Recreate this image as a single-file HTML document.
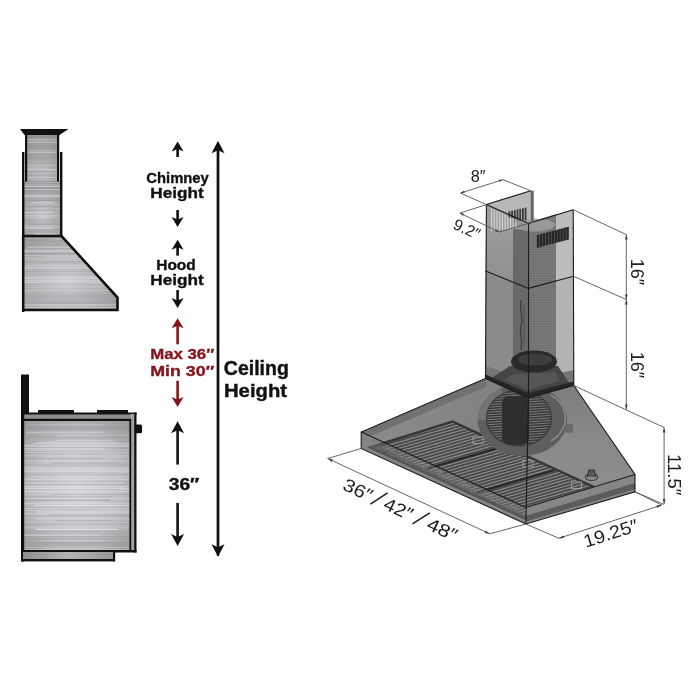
<!DOCTYPE html>
<html><head><meta charset="utf-8"><style>
html,body{margin:0;padding:0;background:#fff;}
svg{display:block;}
text{font-family:"Liberation Sans",sans-serif;}
</style></head><body>
<svg width="700" height="700" viewBox="0 0 700 700">
<defs>
<radialGradient id="metalV" cx="0.5" cy="0.65" r="0.8">
<stop offset="0" stop-color="#c6c6ca"/><stop offset="0.55" stop-color="#a9a9ac"/><stop offset="1" stop-color="#8a8a8c"/></radialGradient>
<radialGradient id="metalH" cx="0.45" cy="0.6" r="0.7">
<stop offset="0" stop-color="#cfcfd3"/><stop offset="0.6" stop-color="#b2b2b5"/><stop offset="1" stop-color="#949496"/></radialGradient>
<radialGradient id="metalB" cx="0.5" cy="0.52" r="0.72">
<stop offset="0" stop-color="#d6d6da"/><stop offset="0.55" stop-color="#c0c0c4"/><stop offset="1" stop-color="#969698"/></radialGradient>
<linearGradient id="metalP" x1="0" x2="1" y1="0" y2="0">
<stop offset="0" stop-color="#8e8e90"/><stop offset="0.5" stop-color="#b4b4b7"/><stop offset="1" stop-color="#969698"/></linearGradient>
<linearGradient id="upFront" x1="0" x2="0" y1="0" y2="1"><stop offset="0" stop-color="#a0a0a0"/><stop offset="1" stop-color="#8e8e8e"/></linearGradient>
<linearGradient id="hoodFront" x1="0" x2="1" y1="0" y2="0.3">
<stop offset="0" stop-color="#8e8e8e"/><stop offset="1" stop-color="#7e7e7e"/></linearGradient>
<linearGradient id="hoodRight" x1="0" x2="0" y1="0" y2="1">
<stop offset="0" stop-color="#7e7e7e"/><stop offset="0.5" stop-color="#8a8a8a"/><stop offset="1" stop-color="#8e8e8e"/></linearGradient>
</defs>
<rect width="700" height="700" fill="#fff"/>
<g><rect x="25" y="134" width="34" height="102" fill="url(#metalV)"/><rect x="30.1" y="134" width="28.9" height="0.7" fill="rgb(240,240,244)" opacity="0.61"/><rect x="25" y="135.9" width="34" height="0.7" fill="rgb(135,135,139)" opacity="0.52"/><rect x="25" y="137.9" width="34" height="1.1" fill="rgb(160,160,164)" opacity="0.32"/><rect x="25" y="138.9" width="29.7" height="0.5" fill="rgb(215,215,219)" opacity="0.68"/><rect x="25" y="139.8" width="34" height="0.7" fill="rgb(230,230,234)" opacity="0.52"/><rect x="25" y="141.9" width="34" height="0.9" fill="rgb(228,228,232)" opacity="0.64"/><rect x="25" y="143" width="34" height="0.9" fill="rgb(145,145,149)" opacity="0.52"/><rect x="25" y="145.4" width="34" height="0.7" fill="rgb(153,153,157)" opacity="0.54"/><rect x="25" y="146.9" width="28.4" height="0.5" fill="rgb(158,158,162)" opacity="0.49"/><rect x="25" y="148.8" width="34" height="0.9" fill="rgb(156,156,160)" opacity="0.40"/><rect x="25" y="150.3" width="34" height="1.1" fill="rgb(230,230,234)" opacity="0.32"/><rect x="25" y="152.1" width="34" height="1.1" fill="rgb(220,220,224)" opacity="0.50"/><rect x="25" y="153.8" width="34" height="0.7" fill="rgb(146,146,150)" opacity="0.54"/><rect x="25" y="155.1" width="34" height="0.5" fill="rgb(162,162,166)" opacity="0.50"/><rect x="25" y="157.2" width="34" height="0.7" fill="rgb(136,136,140)" opacity="0.39"/><rect x="30.5" y="159.6" width="28.5" height="1.1" fill="rgb(146,146,150)" opacity="0.37"/><rect x="25" y="160.9" width="34" height="0.5" fill="rgb(235,235,239)" opacity="0.37"/><rect x="25.2" y="163" width="26.1" height="0.9" fill="rgb(165,165,169)" opacity="0.45"/><rect x="26.6" y="164.3" width="32.4" height="0.5" fill="rgb(220,220,224)" opacity="0.44"/><rect x="25" y="165.5" width="34" height="0.9" fill="rgb(224,224,228)" opacity="0.48"/><rect x="34.2" y="166.4" width="24.8" height="1.1" fill="rgb(160,160,164)" opacity="0.31"/><rect x="25" y="167.6" width="24.2" height="1.1" fill="rgb(215,215,219)" opacity="0.39"/><rect x="25" y="169.2" width="34" height="1.1" fill="rgb(222,222,226)" opacity="0.69"/><rect x="25" y="170.8" width="34" height="0.5" fill="rgb(153,153,157)" opacity="0.49"/><rect x="25" y="172.8" width="34" height="0.7" fill="rgb(216,216,220)" opacity="0.42"/><rect x="25" y="175.1" width="34" height="0.7" fill="rgb(143,143,147)" opacity="0.29"/><rect x="25" y="176.9" width="34" height="0.7" fill="rgb(233,233,237)" opacity="0.48"/><rect x="25" y="178.9" width="34" height="0.5" fill="rgb(146,146,150)" opacity="0.28"/><rect x="25" y="180.7" width="27.8" height="1.1" fill="rgb(156,156,160)" opacity="0.37"/><rect x="25" y="182.2" width="34" height="0.9" fill="rgb(141,141,145)" opacity="0.51"/><rect x="25" y="183.3" width="34" height="1.1" fill="rgb(156,156,160)" opacity="0.28"/><rect x="25" y="185.6" width="32.3" height="1.1" fill="rgb(232,232,236)" opacity="0.39"/><rect x="25" y="187.9" width="34" height="0.7" fill="rgb(145,145,149)" opacity="0.43"/><rect x="25" y="189.3" width="34" height="0.9" fill="rgb(165,165,169)" opacity="0.43"/><rect x="25" y="190.4" width="34" height="0.5" fill="rgb(148,148,152)" opacity="0.27"/><rect x="25" y="192.5" width="34" height="0.9" fill="rgb(153,153,157)" opacity="0.48"/><rect x="25" y="193.8" width="34" height="0.5" fill="rgb(226,226,230)" opacity="0.66"/><rect x="31.8" y="195.3" width="26" height="0.9" fill="rgb(136,136,140)" opacity="0.50"/><rect x="25" y="197.6" width="32.3" height="0.5" fill="rgb(160,160,164)" opacity="0.55"/><rect x="25" y="198.8" width="34" height="0.5" fill="rgb(165,165,169)" opacity="0.36"/><rect x="25" y="200.2" width="33.9" height="0.9" fill="rgb(225,225,229)" opacity="0.34"/><rect x="25" y="202.6" width="24.7" height="0.9" fill="rgb(225,225,229)" opacity="0.48"/><rect x="25" y="204.9" width="34" height="1.1" fill="rgb(141,141,145)" opacity="0.49"/><rect x="27" y="207.1" width="32" height="1.1" fill="rgb(223,223,227)" opacity="0.37"/><rect x="25" y="209.2" width="34" height="0.5" fill="rgb(229,229,233)" opacity="0.34"/><rect x="25" y="210.5" width="34" height="0.9" fill="rgb(140,140,144)" opacity="0.35"/><rect x="25" y="211.8" width="33.8" height="0.9" fill="rgb(154,154,158)" opacity="0.42"/><rect x="31.5" y="213.1" width="19.4" height="0.5" fill="rgb(162,162,166)" opacity="0.27"/><rect x="34.7" y="214.7" width="16.4" height="0.7" fill="rgb(159,159,163)" opacity="0.49"/><rect x="25" y="217.1" width="24.9" height="0.9" fill="rgb(157,157,161)" opacity="0.40"/><rect x="25" y="218.2" width="34" height="0.5" fill="rgb(234,234,238)" opacity="0.62"/><rect x="33.8" y="220.2" width="17.3" height="0.7" fill="rgb(148,148,152)" opacity="0.41"/><rect x="25" y="222.2" width="34" height="1.1" fill="rgb(232,232,236)" opacity="0.40"/><rect x="25" y="223.1" width="34" height="0.9" fill="rgb(150,150,154)" opacity="0.26"/><rect x="27.6" y="224.8" width="31.4" height="0.5" fill="rgb(233,233,237)" opacity="0.36"/><rect x="30.4" y="226.3" width="28.6" height="1.1" fill="rgb(137,137,141)" opacity="0.32"/><rect x="30" y="228.2" width="29" height="1.1" fill="rgb(235,235,239)" opacity="0.59"/><rect x="25" y="229.5" width="27.4" height="1.1" fill="rgb(154,154,158)" opacity="0.52"/><rect x="32.8" y="230.4" width="26.2" height="0.5" fill="rgb(235,235,239)" opacity="0.65"/><rect x="25" y="231.8" width="34" height="0.9" fill="rgb(226,226,230)" opacity="0.37"/><rect x="27.6" y="232.8" width="25.6" height="0.5" fill="rgb(231,231,235)" opacity="0.53"/><rect x="25" y="234.9" width="34" height="0.5" fill="rgb(147,147,151)" opacity="0.47"/><rect x="23" y="181" width="39" height="55" fill="url(#metalV)"/><rect x="24" y="181" width="37" height="0.5" fill="rgb(146,146,150)" opacity="0.50"/><rect x="24" y="182.4" width="37" height="0.7" fill="rgb(233,233,237)" opacity="0.57"/><rect x="24" y="184.5" width="37" height="0.9" fill="rgb(229,229,233)" opacity="0.50"/><rect x="24" y="185.9" width="37" height="0.9" fill="rgb(228,228,232)" opacity="0.66"/><rect x="24" y="187.2" width="37" height="0.5" fill="rgb(140,140,144)" opacity="0.29"/><rect x="24" y="189.1" width="37" height="0.7" fill="rgb(229,229,233)" opacity="0.62"/><rect x="32.4" y="191.1" width="28.6" height="0.9" fill="rgb(162,162,166)" opacity="0.54"/><rect x="24" y="192.7" width="37" height="0.7" fill="rgb(164,164,168)" opacity="0.40"/><rect x="24" y="194.6" width="37" height="1.1" fill="rgb(229,229,233)" opacity="0.44"/><rect x="24" y="196.2" width="37" height="0.7" fill="rgb(237,237,241)" opacity="0.63"/><rect x="24" y="198.3" width="37" height="1.1" fill="rgb(165,165,169)" opacity="0.49"/><rect x="24" y="199.9" width="37" height="1.1" fill="rgb(141,141,145)" opacity="0.40"/><rect x="30.4" y="202.1" width="24.1" height="0.9" fill="rgb(221,221,225)" opacity="0.70"/><rect x="26.3" y="204.1" width="34.7" height="0.5" fill="rgb(219,219,223)" opacity="0.64"/><rect x="24" y="205.6" width="26.4" height="0.5" fill="rgb(146,146,150)" opacity="0.30"/><rect x="26" y="206.5" width="35" height="0.5" fill="rgb(139,139,143)" opacity="0.49"/><rect x="27.8" y="208" width="33.2" height="0.5" fill="rgb(222,222,226)" opacity="0.36"/><rect x="24" y="210" width="37" height="0.5" fill="rgb(150,150,154)" opacity="0.26"/><rect x="24" y="212" width="29.7" height="0.9" fill="rgb(234,234,238)" opacity="0.58"/><rect x="30.5" y="213.4" width="30.5" height="0.5" fill="rgb(160,160,164)" opacity="0.51"/><rect x="24" y="215.1" width="37" height="0.7" fill="rgb(225,225,229)" opacity="0.40"/><rect x="25.1" y="216" width="35.9" height="0.7" fill="rgb(223,223,227)" opacity="0.31"/><rect x="24.9" y="217.7" width="27.3" height="0.5" fill="rgb(222,222,226)" opacity="0.59"/><rect x="24" y="219.5" width="32.7" height="0.9" fill="rgb(148,148,152)" opacity="0.33"/><rect x="24" y="220.6" width="36.7" height="0.5" fill="rgb(138,138,142)" opacity="0.26"/><rect x="24" y="222.6" width="37" height="1.1" fill="rgb(155,155,159)" opacity="0.36"/><rect x="28.6" y="223.8" width="32.4" height="1.1" fill="rgb(135,135,139)" opacity="0.42"/><rect x="24" y="224.9" width="37" height="0.5" fill="rgb(230,230,234)" opacity="0.45"/><rect x="24" y="226.8" width="37" height="0.9" fill="rgb(226,226,230)" opacity="0.42"/><rect x="24" y="227.8" width="29.9" height="0.7" fill="rgb(236,236,240)" opacity="0.63"/><rect x="24" y="229.4" width="28.6" height="0.5" fill="rgb(135,135,139)" opacity="0.36"/><rect x="24" y="230.6" width="37" height="0.9" fill="rgb(149,149,153)" opacity="0.29"/><rect x="24" y="231.9" width="35.8" height="0.5" fill="rgb(162,162,166)" opacity="0.35"/><rect x="34.7" y="233.7" width="22.2" height="1.1" fill="rgb(238,238,242)" opacity="0.58"/><rect x="24" y="235.3" width="37" height="1.1" fill="rgb(238,238,242)" opacity="0.62"/><rect x="25" y="134" width="2.2" height="47.5" fill="#111"/><rect x="57" y="134" width="2.2" height="47.5" fill="#111"/><rect x="22" y="152" width="2.4" height="160" fill="#111"/><rect x="60" y="152" width="2.4" height="85" fill="#111"/><polygon points="20,129 68.5,129 59.5,135 24.5,135" fill="#111"/><polygon points="23.2,236 61.5,236 117.5,297.5 117.5,310 23.2,310" fill="url(#metalH)" stroke="#111" stroke-width="2.6" stroke-linejoin="miter"/><clipPath id="hoodclip"><polygon points="24.5,237.5 61,237.5 116,298 116,309 24.5,309"/></clipPath><g clip-path="url(#hoodclip)"><rect x="24" y="238" width="93" height="0.7" fill="rgb(219,219,223)" opacity="0.45"/><rect x="51.8" y="239" width="65.2" height="0.5" fill="rgb(230,230,234)" opacity="0.40"/><rect x="24" y="241.2" width="93" height="1.1" fill="rgb(162,162,166)" opacity="0.30"/><rect x="24" y="242.8" width="71.2" height="0.5" fill="rgb(217,217,221)" opacity="0.36"/><rect x="24" y="245" width="93" height="0.9" fill="rgb(158,158,162)" opacity="0.53"/><rect x="27.8" y="246.5" width="62.3" height="1.1" fill="rgb(219,219,223)" opacity="0.65"/><rect x="24" y="248.1" width="93" height="0.9" fill="rgb(161,161,165)" opacity="0.37"/><rect x="24" y="249.8" width="93" height="0.9" fill="rgb(215,215,219)" opacity="0.64"/><rect x="24" y="251" width="69.8" height="0.9" fill="rgb(233,233,237)" opacity="0.53"/><rect x="24" y="252.7" width="70.7" height="0.9" fill="rgb(150,150,154)" opacity="0.51"/><rect x="24" y="254.3" width="75.9" height="0.7" fill="rgb(148,148,152)" opacity="0.48"/><rect x="24" y="255.2" width="93" height="0.9" fill="rgb(223,223,227)" opacity="0.50"/><rect x="43.2" y="256.2" width="73.8" height="0.5" fill="rgb(228,228,232)" opacity="0.42"/><rect x="24" y="257.7" width="93" height="0.9" fill="rgb(227,227,231)" opacity="0.45"/><rect x="24" y="259.9" width="93" height="0.5" fill="rgb(240,240,244)" opacity="0.50"/><rect x="24" y="261.1" width="81.4" height="0.9" fill="rgb(143,143,147)" opacity="0.41"/><rect x="41.5" y="262.9" width="75.5" height="0.5" fill="rgb(153,153,157)" opacity="0.44"/><rect x="25.7" y="264.8" width="91.3" height="0.9" fill="rgb(223,223,227)" opacity="0.60"/><rect x="24" y="267.1" width="93" height="0.9" fill="rgb(224,224,228)" opacity="0.54"/><rect x="24" y="268.5" width="93" height="0.9" fill="rgb(223,223,227)" opacity="0.42"/><rect x="33.1" y="269.5" width="83.9" height="0.7" fill="rgb(142,142,146)" opacity="0.45"/><rect x="24" y="271.3" width="70.4" height="0.5" fill="rgb(145,145,149)" opacity="0.53"/><rect x="24" y="273.7" width="71" height="0.5" fill="rgb(155,155,159)" opacity="0.32"/><rect x="31.8" y="274.6" width="85.2" height="0.7" fill="rgb(161,161,165)" opacity="0.50"/><rect x="24" y="276.5" width="83.3" height="0.9" fill="rgb(228,228,232)" opacity="0.42"/><rect x="24.1" y="278" width="92.9" height="1.1" fill="rgb(216,216,220)" opacity="0.67"/><rect x="24" y="280.2" width="93" height="1.1" fill="rgb(237,237,241)" opacity="0.39"/><rect x="24" y="282.1" width="93" height="0.9" fill="rgb(222,222,226)" opacity="0.64"/><rect x="24" y="283.2" width="68.3" height="0.7" fill="rgb(163,163,167)" opacity="0.49"/><rect x="24" y="284.8" width="92.4" height="0.5" fill="rgb(158,158,162)" opacity="0.29"/><rect x="51.1" y="286.5" width="65.9" height="0.5" fill="rgb(234,234,238)" opacity="0.35"/><rect x="24" y="288.6" width="86.3" height="0.5" fill="rgb(141,141,145)" opacity="0.29"/><rect x="24" y="289.9" width="93" height="0.7" fill="rgb(215,215,219)" opacity="0.50"/><rect x="33" y="291.9" width="84" height="0.7" fill="rgb(151,151,155)" opacity="0.41"/><rect x="24" y="294.1" width="93" height="0.7" fill="rgb(136,136,140)" opacity="0.27"/><rect x="24" y="295.1" width="93" height="1.1" fill="rgb(145,145,149)" opacity="0.27"/><rect x="24.1" y="296.5" width="92.9" height="0.9" fill="rgb(145,145,149)" opacity="0.38"/><rect x="24" y="298.6" width="93" height="0.7" fill="rgb(149,149,153)" opacity="0.43"/><rect x="24" y="300.7" width="93" height="1.1" fill="rgb(155,155,159)" opacity="0.40"/><rect x="24" y="302.6" width="81.1" height="1.1" fill="rgb(141,141,145)" opacity="0.41"/><rect x="24" y="304.2" width="93" height="0.5" fill="rgb(226,226,230)" opacity="0.69"/><rect x="24" y="305.2" width="93" height="0.5" fill="rgb(238,238,242)" opacity="0.56"/><rect x="24" y="307.1" width="93" height="0.9" fill="rgb(218,218,222)" opacity="0.62"/><rect x="24" y="308.4" width="93" height="1.1" fill="rgb(137,137,141)" opacity="0.42"/></g></g><g><rect x="21" y="374.5" width="8" height="40" fill="#111"/><rect x="38" y="410" width="36" height="4" fill="#111"/><rect x="97" y="410" width="31" height="4" fill="#111"/><rect x="21" y="412.5" width="115.5" height="2.5" fill="#111"/><rect x="22" y="414.5" width="113" height="6" fill="#8e8e90" stroke="#111" stroke-width="0"/><rect x="22" y="418.8" width="110" height="2.4" fill="#111"/><rect x="23" y="421" width="107" height="130" fill="url(#metalB)"/><rect x="26.1" y="421" width="103.9" height="0.7" fill="rgb(158,158,162)" opacity="0.37"/><rect x="24" y="422.9" width="106" height="0.5" fill="rgb(152,152,156)" opacity="0.36"/><rect x="29.2" y="424" width="73.2" height="0.5" fill="rgb(240,240,244)" opacity="0.40"/><rect x="24" y="425.9" width="98.1" height="0.9" fill="rgb(154,154,158)" opacity="0.35"/><rect x="24" y="427" width="106" height="0.9" fill="rgb(144,144,148)" opacity="0.42"/><rect x="33.7" y="428.4" width="96.3" height="1.1" fill="rgb(144,144,148)" opacity="0.38"/><rect x="24" y="429.2" width="106" height="0.5" fill="rgb(143,143,147)" opacity="0.41"/><rect x="24" y="430.1" width="94.7" height="0.7" fill="rgb(164,164,168)" opacity="0.31"/><rect x="26" y="431.8" width="79.7" height="0.9" fill="rgb(221,221,225)" opacity="0.66"/><rect x="24" y="433.3" width="83.8" height="0.7" fill="rgb(164,164,168)" opacity="0.30"/><rect x="54.7" y="435.2" width="75.3" height="0.9" fill="rgb(225,225,229)" opacity="0.31"/><rect x="32" y="436.5" width="98" height="0.5" fill="rgb(141,141,145)" opacity="0.52"/><rect x="24" y="437.4" width="106" height="0.5" fill="rgb(149,149,153)" opacity="0.30"/><rect x="25.9" y="438.5" width="98.7" height="0.5" fill="rgb(141,141,145)" opacity="0.38"/><rect x="55.7" y="440.1" width="57.4" height="0.7" fill="rgb(232,232,236)" opacity="0.50"/><rect x="37.1" y="441.9" width="79.5" height="1.1" fill="rgb(221,221,225)" opacity="0.49"/><rect x="32.1" y="442.9" width="97.9" height="1.1" fill="rgb(230,230,234)" opacity="0.38"/><rect x="24" y="444.6" width="106" height="1.1" fill="rgb(219,219,223)" opacity="0.43"/><rect x="24" y="445.5" width="106" height="1.1" fill="rgb(235,235,239)" opacity="0.56"/><rect x="24" y="446.9" width="106" height="0.5" fill="rgb(164,164,168)" opacity="0.51"/><rect x="24" y="448.1" width="80.5" height="1.1" fill="rgb(235,235,239)" opacity="0.43"/><rect x="24" y="449.8" width="106" height="0.9" fill="rgb(230,230,234)" opacity="0.33"/><rect x="24" y="451.4" width="106" height="0.5" fill="rgb(154,154,158)" opacity="0.29"/><rect x="24" y="452.2" width="106" height="0.7" fill="rgb(229,229,233)" opacity="0.53"/><rect x="24" y="453.3" width="80.2" height="0.5" fill="rgb(140,140,144)" opacity="0.25"/><rect x="24" y="455" width="106" height="0.7" fill="rgb(221,221,225)" opacity="0.36"/><rect x="42.9" y="456.4" width="87.1" height="1.1" fill="rgb(229,229,233)" opacity="0.31"/><rect x="24" y="458.3" width="79.4" height="0.7" fill="rgb(137,137,141)" opacity="0.48"/><rect x="24" y="460.1" width="106" height="0.5" fill="rgb(229,229,233)" opacity="0.45"/><rect x="43.7" y="461.1" width="86.3" height="1.1" fill="rgb(227,227,231)" opacity="0.34"/><rect x="52" y="462.5" width="68.4" height="1.1" fill="rgb(157,157,161)" opacity="0.48"/><rect x="24" y="464.3" width="101.3" height="1.1" fill="rgb(152,152,156)" opacity="0.30"/><rect x="44.6" y="465.6" width="81.9" height="0.9" fill="rgb(163,163,167)" opacity="0.25"/><rect x="24" y="467.4" width="106" height="1.1" fill="rgb(231,231,235)" opacity="0.40"/><rect x="24" y="469.1" width="106" height="0.5" fill="rgb(234,234,238)" opacity="0.66"/><rect x="24" y="470.8" width="106" height="0.9" fill="rgb(231,231,235)" opacity="0.61"/><rect x="28.6" y="471.7" width="101.4" height="0.9" fill="rgb(225,225,229)" opacity="0.35"/><rect x="24" y="472.7" width="93.2" height="0.9" fill="rgb(160,160,164)" opacity="0.36"/><rect x="24" y="474.6" width="105.4" height="0.7" fill="rgb(146,146,150)" opacity="0.35"/><rect x="29.8" y="476.6" width="100.2" height="0.5" fill="rgb(240,240,244)" opacity="0.63"/><rect x="24" y="478.1" width="106" height="0.5" fill="rgb(218,218,222)" opacity="0.37"/><rect x="24" y="479.2" width="106" height="0.9" fill="rgb(237,237,241)" opacity="0.46"/><rect x="24" y="480.8" width="106" height="0.9" fill="rgb(158,158,162)" opacity="0.35"/><rect x="24" y="482.7" width="100.2" height="1.1" fill="rgb(225,225,229)" opacity="0.41"/><rect x="26.2" y="484.1" width="103.8" height="0.9" fill="rgb(147,147,151)" opacity="0.44"/><rect x="24" y="486.1" width="106" height="0.9" fill="rgb(224,224,228)" opacity="0.66"/><rect x="24" y="487.6" width="101.8" height="1.1" fill="rgb(239,239,243)" opacity="0.33"/><rect x="24" y="488.4" width="106" height="1.1" fill="rgb(236,236,240)" opacity="0.55"/><rect x="24" y="489.2" width="97.4" height="0.7" fill="rgb(138,138,142)" opacity="0.31"/><rect x="24" y="491.1" width="106" height="0.9" fill="rgb(235,235,239)" opacity="0.58"/><rect x="24" y="493" width="92.9" height="0.5" fill="rgb(237,237,241)" opacity="0.30"/><rect x="52.3" y="494" width="77.7" height="0.9" fill="rgb(137,137,141)" opacity="0.36"/><rect x="55.2" y="495.4" width="53.3" height="0.9" fill="rgb(225,225,229)" opacity="0.37"/><rect x="24" y="496.6" width="88.4" height="0.7" fill="rgb(138,138,142)" opacity="0.50"/><rect x="24" y="497.9" width="106" height="0.7" fill="rgb(229,229,233)" opacity="0.70"/><rect x="24" y="499.8" width="86.3" height="1.1" fill="rgb(140,140,144)" opacity="0.50"/><rect x="44.1" y="501.7" width="58.6" height="0.9" fill="rgb(228,228,232)" opacity="0.54"/><rect x="24" y="503.3" width="106" height="0.9" fill="rgb(230,230,234)" opacity="0.55"/><rect x="34.3" y="505.2" width="95.7" height="0.9" fill="rgb(236,236,240)" opacity="0.69"/><rect x="24" y="507.1" width="106" height="0.5" fill="rgb(136,136,140)" opacity="0.40"/><rect x="24" y="508.2" width="106" height="0.7" fill="rgb(225,225,229)" opacity="0.61"/><rect x="24" y="509.1" width="82.7" height="0.5" fill="rgb(142,142,146)" opacity="0.44"/><rect x="24" y="509.9" width="106" height="1.1" fill="rgb(221,221,225)" opacity="0.44"/><rect x="37.1" y="511.6" width="92.9" height="0.9" fill="rgb(235,235,239)" opacity="0.54"/><rect x="24" y="513.3" width="106" height="0.9" fill="rgb(224,224,228)" opacity="0.62"/><rect x="48" y="514.3" width="82" height="0.5" fill="rgb(148,148,152)" opacity="0.53"/><rect x="26.8" y="515.8" width="103.2" height="1.1" fill="rgb(154,154,158)" opacity="0.31"/><rect x="24" y="517.4" width="103.1" height="0.7" fill="rgb(225,225,229)" opacity="0.33"/><rect x="34.8" y="518.4" width="95.2" height="0.9" fill="rgb(235,235,239)" opacity="0.50"/><rect x="54.9" y="520.4" width="57.1" height="0.7" fill="rgb(151,151,155)" opacity="0.50"/><rect x="24" y="521.9" width="106" height="0.5" fill="rgb(220,220,224)" opacity="0.66"/><rect x="24" y="523.7" width="106" height="0.7" fill="rgb(153,153,157)" opacity="0.35"/><rect x="54.4" y="525.2" width="75.6" height="0.9" fill="rgb(220,220,224)" opacity="0.37"/><rect x="24" y="526.8" width="106" height="0.5" fill="rgb(223,223,227)" opacity="0.58"/><rect x="24" y="527.7" width="106" height="0.7" fill="rgb(227,227,231)" opacity="0.49"/><rect x="35.4" y="528.9" width="83" height="1.1" fill="rgb(239,239,243)" opacity="0.67"/><rect x="24" y="530.7" width="94.9" height="0.9" fill="rgb(152,152,156)" opacity="0.46"/><rect x="24" y="532.7" width="106" height="0.7" fill="rgb(138,138,142)" opacity="0.31"/><rect x="24" y="534.6" width="74.4" height="1.1" fill="rgb(224,224,228)" opacity="0.62"/><rect x="24" y="536.1" width="106" height="0.9" fill="rgb(149,149,153)" opacity="0.46"/><rect x="24" y="538" width="106" height="1.1" fill="rgb(145,145,149)" opacity="0.34"/><rect x="24" y="539.4" width="85" height="0.5" fill="rgb(154,154,158)" opacity="0.32"/><rect x="43.2" y="540.6" width="63.2" height="0.7" fill="rgb(219,219,223)" opacity="0.55"/><rect x="24" y="542" width="106" height="0.9" fill="rgb(146,146,150)" opacity="0.53"/><rect x="28.8" y="543.5" width="101.2" height="0.9" fill="rgb(145,145,149)" opacity="0.54"/><rect x="24" y="545.3" width="100.9" height="1.1" fill="rgb(138,138,142)" opacity="0.27"/><rect x="24" y="546.8" width="106" height="0.7" fill="rgb(216,216,220)" opacity="0.52"/><rect x="43.9" y="548.4" width="58.1" height="0.5" fill="rgb(234,234,238)" opacity="0.36"/><rect x="24" y="549.5" width="106" height="1.1" fill="rgb(231,231,235)" opacity="0.58"/><rect x="130.6" y="414" width="4.8" height="137" fill="#a2a2a4"/><rect x="129.4" y="419" width="1.8" height="133" fill="#111"/><rect x="134.2" y="412.5" width="2.3" height="140" fill="#111"/><rect x="135" y="424.6" width="7" height="8.6" rx="1.5" fill="#111"/><rect x="21" y="412.5" width="3.2" height="149" fill="#111"/><rect x="21" y="550" width="115.5" height="2.5" fill="#111"/><rect x="23" y="552" width="90.5" height="7" fill="url(#metalP)"/><rect x="21" y="559" width="94" height="2.4" fill="#111"/><rect x="113" y="552" width="2.2" height="9.4" fill="#111"/></g><path d="M177.6,141.4 L183.6,151.4 L177.6,148.9 L171.6,151.4 Z" fill="#111"/><rect x="176.3" y="147.9" width="2.6" height="9.1" fill="#111"/><path d="M177.6,227 L183.6,217 L177.6,219.5 L171.6,217 Z" fill="#111"/><rect x="176.3" y="210" width="2.6" height="10.5" fill="#111"/><path d="M177.6,239.7 L183.6,249.7 L177.6,247.2 L171.6,249.7 Z" fill="#111"/><rect x="176.3" y="246.2" width="2.6" height="9.5" fill="#111"/><path d="M177.6,307.9 L183.6,297.9 L177.6,300.4 L171.6,297.9 Z" fill="#111"/><rect x="176.3" y="290" width="2.6" height="11.4" fill="#111"/><path d="M177.6,318.3 L183.6,328.3 L177.6,325.8 L171.6,328.3 Z" fill="#86141d"/><rect x="176.3" y="324.8" width="2.6" height="19.5" fill="#86141d"/><path d="M177.6,407 L183.6,397 L177.6,399.5 L171.6,397 Z" fill="#86141d"/><rect x="176.3" y="380.7" width="2.6" height="19.8" fill="#86141d"/><path d="M177.6,421.3 L184.1,433.3 L177.6,430.3 L171.1,433.3 Z" fill="#111"/><rect x="176.3" y="429.3" width="2.6" height="35.3" fill="#111"/><path d="M177.6,545.9 L184.1,533.9 L177.6,536.9 L171.1,533.9 Z" fill="#111"/><rect x="176.3" y="502.9" width="2.6" height="35" fill="#111"/><path d="M218,140.7 L224.5,153.2 L218,150.2 L211.5,153.2 Z" fill="#111"/><rect x="216.8" y="149.2" width="2.4" height="406.8" fill="#111"/><path d="M218,556.8 L224.5,544.3 L218,547.3 L211.5,544.3 Z" fill="#111"/><rect x="216.8" y="150" width="2.4" height="398.3" fill="#111"/>
<polygon points="361.2,432 485.5,378.6 528.5,397.8 525.9,507.5" fill="url(#hoodFront)"/><polygon points="361.2,432 485.5,378.6 486.5,386.6 366.2,438" fill="#717171"/><polygon points="528.5,397.8 573.8,385.5 635,474.5 525.9,507.5" fill="url(#hoodRight)"/><polygon points="369.4,447.7 452,422.5 608.6,494 525.9,519.5" fill="#505050"/><clipPath id="filt"><polygon points="375,444.5 453.5,421.7 604,491 528,517"/></clipPath><polygon points="375,444.5 453.5,421.7 604,491 528,517" fill="#8c8c8c"/><g clip-path="url(#filt)"><line x1="359.3" y1="449.1" x2="469.2" y2="417.1" stroke="#484848" stroke-width="1.8"/><line x1="363.3" y1="451" x2="473.2" y2="419" stroke="#484848" stroke-width="1.8"/><line x1="367.4" y1="452.9" x2="477.3" y2="421" stroke="#484848" stroke-width="1.8"/><line x1="371.4" y1="454.8" x2="481.3" y2="422.9" stroke="#484848" stroke-width="1.8"/><line x1="375.4" y1="456.7" x2="485.3" y2="424.8" stroke="#484848" stroke-width="1.8"/><line x1="379.4" y1="458.6" x2="489.3" y2="426.7" stroke="#484848" stroke-width="1.8"/><line x1="383.5" y1="460.5" x2="493.4" y2="428.6" stroke="#484848" stroke-width="1.8"/><line x1="387.5" y1="462.4" x2="497.4" y2="430.5" stroke="#484848" stroke-width="1.8"/><line x1="391.5" y1="464.3" x2="501.4" y2="432.4" stroke="#484848" stroke-width="1.8"/><line x1="395.5" y1="466.2" x2="505.4" y2="434.3" stroke="#484848" stroke-width="1.8"/><line x1="399.6" y1="468.1" x2="509.5" y2="436.2" stroke="#484848" stroke-width="1.8"/><line x1="403.6" y1="470" x2="513.5" y2="438.1" stroke="#484848" stroke-width="1.8"/><line x1="407.6" y1="472" x2="517.5" y2="440" stroke="#484848" stroke-width="1.8"/><line x1="411.6" y1="473.9" x2="521.5" y2="441.9" stroke="#484848" stroke-width="1.8"/><line x1="415.7" y1="475.8" x2="525.6" y2="443.9" stroke="#484848" stroke-width="1.8"/><line x1="419.7" y1="477.7" x2="529.6" y2="445.8" stroke="#484848" stroke-width="1.8"/><line x1="423.7" y1="479.6" x2="533.6" y2="447.7" stroke="#484848" stroke-width="1.8"/><line x1="427.7" y1="481.5" x2="537.6" y2="449.6" stroke="#484848" stroke-width="1.8"/><line x1="431.8" y1="483.4" x2="541.7" y2="451.5" stroke="#484848" stroke-width="1.8"/><line x1="435.8" y1="485.3" x2="545.7" y2="453.4" stroke="#484848" stroke-width="1.8"/><line x1="439.8" y1="487.2" x2="549.7" y2="455.3" stroke="#484848" stroke-width="1.8"/><line x1="443.9" y1="489.1" x2="553.8" y2="457.2" stroke="#484848" stroke-width="1.8"/><line x1="447.9" y1="491" x2="557.8" y2="459.1" stroke="#484848" stroke-width="1.8"/><line x1="451.9" y1="492.9" x2="561.8" y2="461" stroke="#484848" stroke-width="1.8"/><line x1="455.9" y1="494.8" x2="565.8" y2="462.9" stroke="#484848" stroke-width="1.8"/><line x1="460" y1="496.8" x2="569.9" y2="464.8" stroke="#484848" stroke-width="1.8"/><line x1="464" y1="498.7" x2="573.9" y2="466.7" stroke="#484848" stroke-width="1.8"/><line x1="468" y1="500.6" x2="577.9" y2="468.7" stroke="#484848" stroke-width="1.8"/><line x1="472" y1="502.5" x2="581.9" y2="470.6" stroke="#484848" stroke-width="1.8"/><line x1="476.1" y1="504.4" x2="586" y2="472.5" stroke="#484848" stroke-width="1.8"/><line x1="480.1" y1="506.3" x2="590" y2="474.4" stroke="#484848" stroke-width="1.8"/><line x1="484.1" y1="508.2" x2="594" y2="476.3" stroke="#484848" stroke-width="1.8"/><line x1="488.1" y1="510.1" x2="598" y2="478.2" stroke="#484848" stroke-width="1.8"/><line x1="492.2" y1="512" x2="602.1" y2="480.1" stroke="#484848" stroke-width="1.8"/><line x1="496.2" y1="513.9" x2="606.1" y2="482" stroke="#484848" stroke-width="1.8"/><line x1="500.2" y1="515.8" x2="610.1" y2="483.9" stroke="#484848" stroke-width="1.8"/><line x1="504.2" y1="517.7" x2="614.1" y2="485.8" stroke="#484848" stroke-width="1.8"/><line x1="508.3" y1="519.7" x2="618.2" y2="487.7" stroke="#484848" stroke-width="1.8"/><line x1="512.3" y1="521.6" x2="622.2" y2="489.6" stroke="#484848" stroke-width="1.8"/><line x1="516.3" y1="523.5" x2="626.2" y2="491.5" stroke="#484848" stroke-width="1.8"/></g><line x1="426.3" y1="468.8" x2="504.8" y2="446" stroke="#2a2a2a" stroke-width="2.4"/><line x1="476.7" y1="492.7" x2="555.2" y2="469.9" stroke="#2a2a2a" stroke-width="2.4"/><polygon points="370,447.5 452.5,421.5 608,493.5 526,519" fill="none" stroke="#363636" stroke-width="2.4"/><ellipse cx="522.4" cy="420" rx="44.7" ry="36" fill="#5e5e5e"/><path d="M478,420 A44.7,36 0 0 1 500,389 L505,395 A36,30 0 0 0 487,420 Z" fill="#747474"/><ellipse cx="519" cy="418" rx="33" ry="28.5" fill="#363636"/><clipPath id="blc"><ellipse cx="519" cy="418" rx="32" ry="27.5"/></clipPath><g clip-path="url(#blc)"><line x1="484" y1="390" x2="556" y2="385" stroke="#7e7e7e" stroke-width="1.0"/><line x1="484" y1="392.5" x2="556" y2="387.5" stroke="#7e7e7e" stroke-width="1.0"/><line x1="484" y1="395" x2="556" y2="390" stroke="#7e7e7e" stroke-width="1.0"/><line x1="484" y1="397.5" x2="556" y2="392.5" stroke="#7e7e7e" stroke-width="1.0"/><line x1="484" y1="400" x2="556" y2="395" stroke="#7e7e7e" stroke-width="1.0"/><line x1="484" y1="402.5" x2="556" y2="397.5" stroke="#7e7e7e" stroke-width="1.0"/><line x1="484" y1="405" x2="556" y2="400" stroke="#7e7e7e" stroke-width="1.0"/><line x1="484" y1="407.5" x2="556" y2="402.5" stroke="#7e7e7e" stroke-width="1.0"/><line x1="484" y1="410" x2="556" y2="405" stroke="#7e7e7e" stroke-width="1.0"/><line x1="484" y1="412.5" x2="556" y2="407.5" stroke="#7e7e7e" stroke-width="1.0"/><line x1="484" y1="415" x2="556" y2="410" stroke="#7e7e7e" stroke-width="1.0"/><line x1="484" y1="417.5" x2="556" y2="412.5" stroke="#7e7e7e" stroke-width="1.0"/><line x1="484" y1="420" x2="556" y2="415" stroke="#7e7e7e" stroke-width="1.0"/><line x1="484" y1="422.5" x2="556" y2="417.5" stroke="#7e7e7e" stroke-width="1.0"/><line x1="484" y1="425" x2="556" y2="420" stroke="#7e7e7e" stroke-width="1.0"/><line x1="484" y1="427.5" x2="556" y2="422.5" stroke="#7e7e7e" stroke-width="1.0"/><line x1="484" y1="430" x2="556" y2="425" stroke="#7e7e7e" stroke-width="1.0"/><line x1="484" y1="432.5" x2="556" y2="427.5" stroke="#7e7e7e" stroke-width="1.0"/><line x1="484" y1="435" x2="556" y2="430" stroke="#7e7e7e" stroke-width="1.0"/><line x1="484" y1="437.5" x2="556" y2="432.5" stroke="#7e7e7e" stroke-width="1.0"/><line x1="484" y1="440" x2="556" y2="435" stroke="#7e7e7e" stroke-width="1.0"/><line x1="484" y1="442.5" x2="556" y2="437.5" stroke="#7e7e7e" stroke-width="1.0"/><line x1="484" y1="445" x2="556" y2="440" stroke="#7e7e7e" stroke-width="1.0"/><line x1="484" y1="447.5" x2="556" y2="442.5" stroke="#7e7e7e" stroke-width="1.0"/></g><path d="M551,395 A30,27 0 0 1 551,441" stroke="#8a8a8a" stroke-width="1.5" fill="none"/><rect x="502" y="396" width="27" height="49" rx="7" fill="#2e2e2e"/><rect x="565" y="424" width="8" height="8.6" fill="#6a6a6a"/><ellipse cx="591.5" cy="477" rx="6" ry="3.5" fill="none" stroke="#3a3a3a" stroke-width="1.2"/><path d="M587.5,477 L588.5,470 L594.5,470 L595.5,477" fill="#5a5a5a" stroke="#2e2e2e" stroke-width="1"/><rect x="473" y="437" width="10" height="6.5" fill="none" stroke="#b0b0b0" stroke-width="0.9" opacity="0.8"/><rect x="523" y="460.5" width="10" height="6.5" fill="none" stroke="#b0b0b0" stroke-width="0.9" opacity="0.8"/><rect x="571.5" y="482" width="10" height="6.5" fill="none" stroke="#b0b0b0" stroke-width="0.9" opacity="0.8"/><polygon points="361.2,432 525.9,507.5 525.9,524 361.2,448.5" fill="#858585"/><clipPath id="boxf"><polygon points="361.2,432 525.9,507.5 525.9,524 361.2,448.5"/></clipPath><g clip-path="url(#boxf)" opacity="0.6"><polygon points="369.4,447.7 452,422.5 608.6,494 525.9,519.5" fill="#505050"/><clipPath id="filt2"><polygon points="375,444.5 453.5,421.7 604,491 528,517"/></clipPath><polygon points="375,444.5 453.5,421.7 604,491 528,517" fill="#8c8c8c"/><g clip-path="url(#filt2)"><line x1="359.3" y1="449.1" x2="469.2" y2="417.1" stroke="#484848" stroke-width="1.8"/><line x1="363.3" y1="451" x2="473.2" y2="419" stroke="#484848" stroke-width="1.8"/><line x1="367.4" y1="452.9" x2="477.3" y2="421" stroke="#484848" stroke-width="1.8"/><line x1="371.4" y1="454.8" x2="481.3" y2="422.9" stroke="#484848" stroke-width="1.8"/><line x1="375.4" y1="456.7" x2="485.3" y2="424.8" stroke="#484848" stroke-width="1.8"/><line x1="379.4" y1="458.6" x2="489.3" y2="426.7" stroke="#484848" stroke-width="1.8"/><line x1="383.5" y1="460.5" x2="493.4" y2="428.6" stroke="#484848" stroke-width="1.8"/><line x1="387.5" y1="462.4" x2="497.4" y2="430.5" stroke="#484848" stroke-width="1.8"/><line x1="391.5" y1="464.3" x2="501.4" y2="432.4" stroke="#484848" stroke-width="1.8"/><line x1="395.5" y1="466.2" x2="505.4" y2="434.3" stroke="#484848" stroke-width="1.8"/><line x1="399.6" y1="468.1" x2="509.5" y2="436.2" stroke="#484848" stroke-width="1.8"/><line x1="403.6" y1="470" x2="513.5" y2="438.1" stroke="#484848" stroke-width="1.8"/><line x1="407.6" y1="472" x2="517.5" y2="440" stroke="#484848" stroke-width="1.8"/><line x1="411.6" y1="473.9" x2="521.5" y2="441.9" stroke="#484848" stroke-width="1.8"/><line x1="415.7" y1="475.8" x2="525.6" y2="443.9" stroke="#484848" stroke-width="1.8"/><line x1="419.7" y1="477.7" x2="529.6" y2="445.8" stroke="#484848" stroke-width="1.8"/><line x1="423.7" y1="479.6" x2="533.6" y2="447.7" stroke="#484848" stroke-width="1.8"/><line x1="427.7" y1="481.5" x2="537.6" y2="449.6" stroke="#484848" stroke-width="1.8"/><line x1="431.8" y1="483.4" x2="541.7" y2="451.5" stroke="#484848" stroke-width="1.8"/><line x1="435.8" y1="485.3" x2="545.7" y2="453.4" stroke="#484848" stroke-width="1.8"/><line x1="439.8" y1="487.2" x2="549.7" y2="455.3" stroke="#484848" stroke-width="1.8"/><line x1="443.9" y1="489.1" x2="553.8" y2="457.2" stroke="#484848" stroke-width="1.8"/><line x1="447.9" y1="491" x2="557.8" y2="459.1" stroke="#484848" stroke-width="1.8"/><line x1="451.9" y1="492.9" x2="561.8" y2="461" stroke="#484848" stroke-width="1.8"/><line x1="455.9" y1="494.8" x2="565.8" y2="462.9" stroke="#484848" stroke-width="1.8"/><line x1="460" y1="496.8" x2="569.9" y2="464.8" stroke="#484848" stroke-width="1.8"/><line x1="464" y1="498.7" x2="573.9" y2="466.7" stroke="#484848" stroke-width="1.8"/><line x1="468" y1="500.6" x2="577.9" y2="468.7" stroke="#484848" stroke-width="1.8"/><line x1="472" y1="502.5" x2="581.9" y2="470.6" stroke="#484848" stroke-width="1.8"/><line x1="476.1" y1="504.4" x2="586" y2="472.5" stroke="#484848" stroke-width="1.8"/><line x1="480.1" y1="506.3" x2="590" y2="474.4" stroke="#484848" stroke-width="1.8"/><line x1="484.1" y1="508.2" x2="594" y2="476.3" stroke="#484848" stroke-width="1.8"/><line x1="488.1" y1="510.1" x2="598" y2="478.2" stroke="#484848" stroke-width="1.8"/><line x1="492.2" y1="512" x2="602.1" y2="480.1" stroke="#484848" stroke-width="1.8"/><line x1="496.2" y1="513.9" x2="606.1" y2="482" stroke="#484848" stroke-width="1.8"/><line x1="500.2" y1="515.8" x2="610.1" y2="483.9" stroke="#484848" stroke-width="1.8"/><line x1="504.2" y1="517.7" x2="614.1" y2="485.8" stroke="#484848" stroke-width="1.8"/><line x1="508.3" y1="519.7" x2="618.2" y2="487.7" stroke="#484848" stroke-width="1.8"/><line x1="512.3" y1="521.6" x2="622.2" y2="489.6" stroke="#484848" stroke-width="1.8"/><line x1="516.3" y1="523.5" x2="626.2" y2="491.5" stroke="#484848" stroke-width="1.8"/></g><line x1="426.3" y1="468.8" x2="504.8" y2="446" stroke="#2a2a2a" stroke-width="2.4"/><line x1="476.7" y1="492.7" x2="555.2" y2="469.9" stroke="#2a2a2a" stroke-width="2.4"/><polygon points="370,447.5 452.5,421.5 608,493.5 526,519" fill="none" stroke="#363636" stroke-width="2.4"/></g><rect x="414.5" y="459.4" width="1.1" height="1" fill="#8a8a8a" opacity="0.6"/><rect x="496.5" y="496.5" width="1.1" height="1" fill="#8a8a8a" opacity="0.6"/><rect x="444.8" y="472.3" width="1.8" height="1" fill="#3a3a3a" opacity="0.6"/><rect x="400.8" y="456.5" width="2.7" height="1" fill="#9a9a9a" opacity="0.6"/><rect x="381.6" y="444.9" width="2.2" height="1" fill="#8a8a8a" opacity="0.6"/><rect x="371.4" y="443.3" width="3" height="1" fill="#9a9a9a" opacity="0.6"/><rect x="408.9" y="456.8" width="2.1" height="1" fill="#9a9a9a" opacity="0.6"/><rect x="453.5" y="481.8" width="2.2" height="1" fill="#9a9a9a" opacity="0.6"/><rect x="466.4" y="485.1" width="2.4" height="1" fill="#8a8a8a" opacity="0.6"/><rect x="454.2" y="481.6" width="2.4" height="1" fill="#3a3a3a" opacity="0.6"/><rect x="431.6" y="468.6" width="2.8" height="1" fill="#8a8a8a" opacity="0.6"/><rect x="420.8" y="463.1" width="2.4" height="1" fill="#9a9a9a" opacity="0.6"/><rect x="401.4" y="457" width="2" height="1" fill="#8a8a8a" opacity="0.6"/><rect x="417.8" y="463.4" width="3" height="1" fill="#8a8a8a" opacity="0.6"/><rect x="380.6" y="446.2" width="1.3" height="1" fill="#3a3a3a" opacity="0.6"/><rect x="441.7" y="470.9" width="1.2" height="1" fill="#8a8a8a" opacity="0.6"/><rect x="453.1" y="482.6" width="1.7" height="1" fill="#3a3a3a" opacity="0.6"/><rect x="418.9" y="464.3" width="1.1" height="1" fill="#3a3a3a" opacity="0.6"/><rect x="376.6" y="443" width="2.3" height="1" fill="#8a8a8a" opacity="0.6"/><rect x="371.2" y="444.2" width="2.2" height="1" fill="#8a8a8a" opacity="0.6"/><rect x="473.4" y="488.9" width="1.8" height="1" fill="#8a8a8a" opacity="0.6"/><rect x="471.3" y="484.3" width="1.7" height="1" fill="#3a3a3a" opacity="0.6"/><rect x="461.8" y="484" width="2.5" height="1" fill="#9a9a9a" opacity="0.6"/><rect x="382.5" y="445.5" width="2.8" height="1" fill="#3a3a3a" opacity="0.6"/><rect x="443" y="472.6" width="2.1" height="1" fill="#3a3a3a" opacity="0.6"/><rect x="506.7" y="507.4" width="1.6" height="1" fill="#8a8a8a" opacity="0.6"/><rect x="429.6" y="468.1" width="2.9" height="1" fill="#3a3a3a" opacity="0.6"/><rect x="386.1" y="446.6" width="2.3" height="1" fill="#9a9a9a" opacity="0.6"/><rect x="391.2" y="449.8" width="1.8" height="1" fill="#9a9a9a" opacity="0.6"/><rect x="422" y="466.4" width="2.4" height="1" fill="#9a9a9a" opacity="0.6"/><rect x="446.1" y="477.9" width="2.5" height="1" fill="#8a8a8a" opacity="0.6"/><rect x="436.4" y="475.6" width="2.6" height="1" fill="#8a8a8a" opacity="0.6"/><rect x="425.8" y="466.7" width="2" height="1" fill="#9a9a9a" opacity="0.6"/><rect x="427.2" y="465.5" width="1.9" height="1" fill="#9a9a9a" opacity="0.6"/><rect x="379.3" y="447.1" width="1" height="1" fill="#9a9a9a" opacity="0.6"/><rect x="386.1" y="445.9" width="2.2" height="1" fill="#3a3a3a" opacity="0.6"/><rect x="372.8" y="440.7" width="1.3" height="1" fill="#3a3a3a" opacity="0.6"/><rect x="402.7" y="455.7" width="1.9" height="1" fill="#3a3a3a" opacity="0.6"/><rect x="380.2" y="446.5" width="2" height="1" fill="#3a3a3a" opacity="0.6"/><rect x="412.6" y="458.4" width="1.7" height="1" fill="#8a8a8a" opacity="0.6"/><rect x="404.8" y="460.8" width="2" height="1" fill="#9a9a9a" opacity="0.6"/><rect x="395" y="457.3" width="1.3" height="1" fill="#3a3a3a" opacity="0.6"/><rect x="450.7" y="474.9" width="1.6" height="1" fill="#8a8a8a" opacity="0.6"/><rect x="467.1" y="483" width="2" height="1" fill="#3a3a3a" opacity="0.6"/><rect x="510.8" y="505.3" width="2.1" height="1" fill="#9a9a9a" opacity="0.6"/><rect x="489.5" y="495.3" width="2.2" height="1" fill="#9a9a9a" opacity="0.6"/><rect x="491" y="499.7" width="2.6" height="1" fill="#9a9a9a" opacity="0.6"/><rect x="496" y="501.8" width="1.4" height="1" fill="#9a9a9a" opacity="0.6"/><rect x="442.4" y="477.1" width="2.6" height="1" fill="#9a9a9a" opacity="0.6"/><rect x="439" y="471" width="2.9" height="1" fill="#8a8a8a" opacity="0.6"/><rect x="434.9" y="475.5" width="2.9" height="1" fill="#3a3a3a" opacity="0.6"/><rect x="421.3" y="463.1" width="1.9" height="1" fill="#9a9a9a" opacity="0.6"/><rect x="416.8" y="463.3" width="2.7" height="1" fill="#8a8a8a" opacity="0.6"/><rect x="440.2" y="475.5" width="1.2" height="1" fill="#8a8a8a" opacity="0.6"/><rect x="470" y="491.3" width="2.5" height="1" fill="#8a8a8a" opacity="0.6"/><rect x="439.9" y="471.3" width="1.7" height="1" fill="#8a8a8a" opacity="0.6"/><rect x="493.1" y="502.4" width="1.9" height="1" fill="#3a3a3a" opacity="0.6"/><rect x="483.6" y="490.5" width="1.3" height="1" fill="#9a9a9a" opacity="0.6"/><rect x="382.1" y="444.5" width="2.6" height="1" fill="#3a3a3a" opacity="0.6"/><rect x="385.3" y="451.8" width="2.3" height="1" fill="#3a3a3a" opacity="0.6"/><rect x="418.9" y="464.8" width="1" height="1" fill="#9a9a9a" opacity="0.6"/><rect x="492.9" y="500.2" width="2.1" height="1" fill="#9a9a9a" opacity="0.6"/><rect x="515" y="507.9" width="2.7" height="1" fill="#9a9a9a" opacity="0.6"/><rect x="396" y="451.7" width="2" height="1" fill="#3a3a3a" opacity="0.6"/><rect x="487" y="494.1" width="1.8" height="1" fill="#8a8a8a" opacity="0.6"/><rect x="382.8" y="451.4" width="2.8" height="1" fill="#3a3a3a" opacity="0.6"/><rect x="470.3" y="490.7" width="1.8" height="1" fill="#8a8a8a" opacity="0.6"/><rect x="512.3" y="507.2" width="1.3" height="1" fill="#8a8a8a" opacity="0.6"/><polygon points="525.9,507.5 635,474.5 635,491.8 525.9,524" fill="#868686"/><polygon points="525.9,515.8 635,483.1 635,489.2 525.9,521.5" fill="#5c5c5c"/><polygon points="485.6,271 528.4,288.4 528.5,397.8 485.5,378.6" fill="#8b8b8b"/><polygon points="528.4,288.4 573.6,276.3 573.8,385.5 528.5,397.8" fill="#b3b3b3"/><polygon points="486.4,204.6 530.7,190.7 533.5,190.7 533.5,222.6 528.6,223.4" fill="#b8b8b8"/><polygon points="486.4,204.6 528.6,223.4 528.4,288.4 485.6,271" fill="url(#upFront)"/><polygon points="528.6,223.4 573.2,209.7 573.6,276.3 528.4,288.4" fill="#bcbcbc"/><polygon points="513,216 528.5,222.5 528.5,392 513,386" fill="#6c6c6c"/><polygon points="528.5,222.5 556,214.2 556,385 528.5,392" fill="#7b7b7b"/><g><line x1="513" y1="228" x2="556" y2="228" stroke="#555" stroke-width="0.7" opacity="0.5"/><line x1="513" y1="230.4" x2="556" y2="230.4" stroke="#555" stroke-width="0.7" opacity="0.5"/><line x1="513" y1="232.8" x2="556" y2="232.8" stroke="#555" stroke-width="0.7" opacity="0.5"/><line x1="513" y1="235.2" x2="556" y2="235.2" stroke="#555" stroke-width="0.7" opacity="0.5"/><line x1="513" y1="237.6" x2="556" y2="237.6" stroke="#555" stroke-width="0.7" opacity="0.5"/><line x1="513" y1="240" x2="556" y2="240" stroke="#555" stroke-width="0.7" opacity="0.5"/><line x1="513" y1="242.4" x2="556" y2="242.4" stroke="#555" stroke-width="0.7" opacity="0.5"/><line x1="513" y1="244.8" x2="556" y2="244.8" stroke="#555" stroke-width="0.7" opacity="0.5"/><line x1="513" y1="247.2" x2="556" y2="247.2" stroke="#555" stroke-width="0.7" opacity="0.5"/><line x1="513" y1="249.6" x2="556" y2="249.6" stroke="#555" stroke-width="0.7" opacity="0.5"/><line x1="513" y1="252" x2="556" y2="252" stroke="#555" stroke-width="0.7" opacity="0.5"/><line x1="513" y1="254.4" x2="556" y2="254.4" stroke="#555" stroke-width="0.7" opacity="0.5"/><line x1="513" y1="256.8" x2="556" y2="256.8" stroke="#555" stroke-width="0.7" opacity="0.5"/><line x1="513" y1="259.2" x2="556" y2="259.2" stroke="#555" stroke-width="0.7" opacity="0.5"/><line x1="513" y1="261.6" x2="556" y2="261.6" stroke="#555" stroke-width="0.7" opacity="0.5"/><line x1="513" y1="264" x2="556" y2="264" stroke="#555" stroke-width="0.7" opacity="0.5"/><line x1="513" y1="266.4" x2="556" y2="266.4" stroke="#555" stroke-width="0.7" opacity="0.5"/><line x1="513" y1="268.8" x2="556" y2="268.8" stroke="#555" stroke-width="0.7" opacity="0.5"/><line x1="513" y1="271.2" x2="556" y2="271.2" stroke="#555" stroke-width="0.7" opacity="0.5"/><line x1="513" y1="273.6" x2="556" y2="273.6" stroke="#555" stroke-width="0.7" opacity="0.5"/><line x1="513" y1="276" x2="556" y2="276" stroke="#555" stroke-width="0.7" opacity="0.5"/><line x1="513" y1="278.4" x2="556" y2="278.4" stroke="#555" stroke-width="0.7" opacity="0.5"/><line x1="513" y1="280.8" x2="556" y2="280.8" stroke="#555" stroke-width="0.7" opacity="0.5"/><line x1="513" y1="283.2" x2="556" y2="283.2" stroke="#555" stroke-width="0.7" opacity="0.5"/><line x1="513" y1="285.6" x2="556" y2="285.6" stroke="#555" stroke-width="0.7" opacity="0.5"/><line x1="513" y1="288" x2="556" y2="288" stroke="#555" stroke-width="0.7" opacity="0.5"/><line x1="513" y1="290.4" x2="556" y2="290.4" stroke="#555" stroke-width="0.7" opacity="0.5"/><line x1="513" y1="292.8" x2="556" y2="292.8" stroke="#555" stroke-width="0.7" opacity="0.5"/><line x1="513" y1="295.2" x2="556" y2="295.2" stroke="#555" stroke-width="0.7" opacity="0.5"/><line x1="513" y1="297.6" x2="556" y2="297.6" stroke="#555" stroke-width="0.7" opacity="0.5"/><line x1="513" y1="300" x2="556" y2="300" stroke="#555" stroke-width="0.7" opacity="0.5"/><line x1="513" y1="302.4" x2="556" y2="302.4" stroke="#555" stroke-width="0.7" opacity="0.5"/><line x1="513" y1="304.8" x2="556" y2="304.8" stroke="#555" stroke-width="0.7" opacity="0.5"/><line x1="513" y1="307.2" x2="556" y2="307.2" stroke="#555" stroke-width="0.7" opacity="0.5"/><line x1="513" y1="309.6" x2="556" y2="309.6" stroke="#555" stroke-width="0.7" opacity="0.5"/><line x1="513" y1="312" x2="556" y2="312" stroke="#555" stroke-width="0.7" opacity="0.5"/><line x1="513" y1="314.4" x2="556" y2="314.4" stroke="#555" stroke-width="0.7" opacity="0.5"/><line x1="513" y1="316.8" x2="556" y2="316.8" stroke="#555" stroke-width="0.7" opacity="0.5"/><line x1="513" y1="319.2" x2="556" y2="319.2" stroke="#555" stroke-width="0.7" opacity="0.5"/><line x1="513" y1="321.6" x2="556" y2="321.6" stroke="#555" stroke-width="0.7" opacity="0.5"/><line x1="513" y1="324" x2="556" y2="324" stroke="#555" stroke-width="0.7" opacity="0.5"/><line x1="513" y1="326.4" x2="556" y2="326.4" stroke="#555" stroke-width="0.7" opacity="0.5"/><line x1="513" y1="328.8" x2="556" y2="328.8" stroke="#555" stroke-width="0.7" opacity="0.5"/><line x1="513" y1="331.2" x2="556" y2="331.2" stroke="#555" stroke-width="0.7" opacity="0.5"/><line x1="513" y1="333.6" x2="556" y2="333.6" stroke="#555" stroke-width="0.7" opacity="0.5"/><line x1="513" y1="336" x2="556" y2="336" stroke="#555" stroke-width="0.7" opacity="0.5"/><line x1="513" y1="338.4" x2="556" y2="338.4" stroke="#555" stroke-width="0.7" opacity="0.5"/><line x1="513" y1="340.8" x2="556" y2="340.8" stroke="#555" stroke-width="0.7" opacity="0.5"/><line x1="513" y1="343.2" x2="556" y2="343.2" stroke="#555" stroke-width="0.7" opacity="0.5"/><line x1="513" y1="345.6" x2="556" y2="345.6" stroke="#555" stroke-width="0.7" opacity="0.5"/><line x1="513" y1="348" x2="556" y2="348" stroke="#555" stroke-width="0.7" opacity="0.5"/><line x1="513" y1="350.4" x2="556" y2="350.4" stroke="#555" stroke-width="0.7" opacity="0.5"/><line x1="513" y1="352.8" x2="556" y2="352.8" stroke="#555" stroke-width="0.7" opacity="0.5"/><line x1="513" y1="355.2" x2="556" y2="355.2" stroke="#555" stroke-width="0.7" opacity="0.5"/><line x1="513" y1="357.6" x2="556" y2="357.6" stroke="#555" stroke-width="0.7" opacity="0.5"/><line x1="513" y1="360" x2="556" y2="360" stroke="#555" stroke-width="0.7" opacity="0.5"/><line x1="513" y1="362.4" x2="556" y2="362.4" stroke="#555" stroke-width="0.7" opacity="0.5"/><line x1="513" y1="364.8" x2="556" y2="364.8" stroke="#555" stroke-width="0.7" opacity="0.5"/></g><ellipse cx="534" cy="225" rx="21" ry="6.5" fill="#a0a0a0" opacity="0.8"/><path d="M521,300 C519,310 524,318 521,326 C519,333 523,340 521,350" stroke="#3a3a3a" stroke-width="1.2" fill="none"/><path d="M524,305 L524,345" stroke="#4a4a4a" stroke-width="0.8" fill="none"/><polygon points="536.6,235.3 568.8,226.7 568.8,239.5 536.6,248" fill="#555"/><polygon points="537,235.2 539.1,234.6 539.1,247.3 537,247.8" fill="#262626"/><polygon points="540,234.4 542.1,233.8 542.1,246.5 540,247" fill="#262626"/><polygon points="542.9,233.6 545,233.1 545,245.7 542.9,246.2" fill="#262626"/><polygon points="545.9,232.8 548,232.3 548,244.9 545.9,245.4" fill="#262626"/><polygon points="548.8,232 550.9,231.5 550.9,244.1 548.8,244.6" fill="#262626"/><polygon points="551.8,231.3 553.9,230.7 553.9,243.4 551.8,243.9" fill="#262626"/><polygon points="554.7,230.5 556.8,229.9 556.8,242.6 554.7,243.1" fill="#262626"/><polygon points="557.6,229.7 559.8,229.1 559.8,241.8 557.6,242.3" fill="#262626"/><polygon points="560.6,228.9 562.7,228.3 562.7,241 560.6,241.5" fill="#262626"/><polygon points="563.5,228.1 565.6,227.5 565.6,240.2 563.5,240.7" fill="#262626"/><polygon points="566.5,227.3 568.6,226.8 568.6,239.4 566.5,239.9" fill="#262626"/><rect x="491" y="208.5" width="1.2" height="22" fill="#dcdcdc" opacity="0.85"/><rect x="493.7" y="209.7" width="1.2" height="20.7" fill="#dcdcdc" opacity="0.85"/><rect x="496.4" y="210.9" width="1.2" height="19.4" fill="#dcdcdc" opacity="0.85"/><rect x="499.1" y="212" width="1.2" height="18.1" fill="#dcdcdc" opacity="0.85"/><rect x="501.8" y="213.2" width="1.2" height="16.8" fill="#dcdcdc" opacity="0.85"/><rect x="504.5" y="214.4" width="1.2" height="15.4" fill="#dcdcdc" opacity="0.85"/><rect x="507.2" y="215.5" width="1.2" height="14.1" fill="#dcdcdc" opacity="0.85"/><rect x="509.9" y="216.7" width="1.2" height="12.8" fill="#dcdcdc" opacity="0.85"/><rect x="512.6" y="217.9" width="1.2" height="11.5" fill="#dcdcdc" opacity="0.85"/><rect x="515.3" y="219" width="1.2" height="10.2" fill="#dcdcdc" opacity="0.85"/><rect x="508.5" y="211.3" width="1.8" height="6.2" fill="#3a3a3a"/><rect x="511.2" y="210.7" width="1.8" height="7.3" fill="#3a3a3a"/><rect x="513.9" y="210.1" width="1.8" height="8.4" fill="#3a3a3a"/><rect x="516.6" y="209.5" width="1.8" height="9.4" fill="#3a3a3a"/><rect x="519.3" y="208.8" width="1.8" height="10.5" fill="#3a3a3a"/><rect x="522" y="208.2" width="1.8" height="11.6" fill="#3a3a3a"/><rect x="524.7" y="207.6" width="1.8" height="12.7" fill="#3a3a3a"/><polygon points="485.6,366 528.4,380 573.6,370 573.8,385.5 528.5,397.8 485.5,378.6" fill="#767676"/><polygon points="510,366 558,366 570,384 528.5,396 490,379" fill="#464646"/><polygon points="513,374 555,372 560,381 528.5,390 505,380" fill="#555"/><ellipse cx="534" cy="361.5" rx="23" ry="11" fill="#2a2a2a"/><ellipse cx="535" cy="359.5" rx="17" ry="6" fill="#3e3e3e"/><polygon points="485.5,374.5 528.5,393 573.8,381.5 573.8,385.5 528.5,397.8 485.5,378.6" fill="#262626"/><polyline points="486.4,204.6 530.7,190.7" stroke="#1a1a1a" stroke-width="1.1" fill="none"/><polyline points="486.4,204.6 528.6,223.4 573.2,209.7" stroke="#1a1a1a" stroke-width="1.1" fill="none"/><polyline points="485.6,271 528.4,288.4 573.6,276.3" stroke="#1a1a1a" stroke-width="1.1" fill="none"/><polyline points="486.4,204.6 485.5,378.6" stroke="#1a1a1a" stroke-width="1.1" fill="none"/><polyline points="573.2,209.7 573.8,385.5" stroke="#1a1a1a" stroke-width="1.1" fill="none"/><polyline points="528.6,223.4 528.5,397.8 525.9,524" stroke="#1a1a1a" stroke-width="1.1" fill="none"/><polyline points="485.5,378.6 528.5,397.8 573.8,385.5" stroke="#1a1a1a" stroke-width="1.1" fill="none"/><polyline points="485.5,378.6 361.2,432 361.2,448.5 525.9,524 635,491.8 635,474.5 573.8,385.5" stroke="#1a1a1a" stroke-width="1.1" fill="none"/><polyline points="361.2,432 525.9,507.5 635,474.5" stroke="#1a1a1a" stroke-width="1.1" fill="none"/><rect x="530.7" y="190.7" width="3" height="32" fill="#666"/><polyline points="486.4,204.6 460.4,193.1 502.9,179.7 530.7,190.7" stroke="#555" stroke-width="0.9" fill="none"/><polyline points="486.4,204.6 459.9,213.1 499.3,232 528.6,223.4" stroke="#555" stroke-width="0.9" fill="none"/><polyline points="573.2,209.7 626.3,234.6" stroke="#555" stroke-width="0.9" fill="none"/><polyline points="573.6,276.3 626.3,299.5" stroke="#555" stroke-width="0.9" fill="none"/><polyline points="573.8,385.5 664.1,427.5" stroke="#555" stroke-width="0.9" fill="none"/><polyline points="626.3,234.6 626.3,409.5" stroke="#555" stroke-width="0.9" fill="none"/><polyline points="664.1,427.5 664.1,504" stroke="#555" stroke-width="0.9" fill="none"/><polyline points="635,491.8 664.1,504.5" stroke="#555" stroke-width="0.9" fill="none"/><polyline points="525.9,524 558.9,538.3 661.7,505.1 635,491.8" stroke="#555" stroke-width="0.9" fill="none"/><polyline points="361.2,448.5 327.7,458.5 489.7,533.8 525.9,524" stroke="#555" stroke-width="0.9" fill="none"/><polygon points="626.3,234.6 627.7,239.6 624.9,239.6" fill="#444"/><polygon points="626.3,299.5 624.9,294.5 627.7,294.5" fill="#444"/><polygon points="626.3,299.5 627.7,304.5 624.9,304.5" fill="#444"/><polygon points="626.3,409.5 624.9,404.5 627.7,404.5" fill="#444"/><polygon points="664.1,427.5 665.5,432.5 662.7,432.5" fill="#444"/><polygon points="664.1,504 662.7,499 665.5,499" fill="#444"/><polygon points="558.9,538.3 563.2,535.4 564.1,538.1" fill="#444"/><polygon points="661.7,505.1 657.4,508 656.5,505.3" fill="#444"/><polygon points="327.7,458.5 332.8,459.3 331.6,461.9" fill="#444"/><polygon points="489.7,533.8 484.6,533 485.8,530.4" fill="#444"/><polygon points="460.4,193.1 463.9,190.8 464.6,193" fill="#444"/><polygon points="502.9,179.7 499.4,182 498.7,179.8" fill="#444"/><polygon points="459.9,213.1 464,213.7 463,215.9" fill="#444"/><polygon points="499.3,232 495.2,231.4 496.2,229.2" fill="#444"/>
<g style="will-change:transform"><text x="177.6" y="183.1" font-size="14.8" font-weight="bold" fill="#111" text-anchor="middle" textLength="62.5" lengthAdjust="spacingAndGlyphs" stroke="#111" stroke-width="0.35" >Chimney</text><text x="177" y="198.3" font-size="14.5" font-weight="bold" fill="#111" text-anchor="middle" textLength="53.5" lengthAdjust="spacingAndGlyphs" stroke="#111" stroke-width="0.35" >Height</text><text x="176" y="269.6" font-size="15" font-weight="bold" fill="#111" text-anchor="middle" textLength="39.5" lengthAdjust="spacingAndGlyphs" stroke="#111" stroke-width="0.35" >Hood</text><text x="177" y="285.4" font-size="14.5" font-weight="bold" fill="#111" text-anchor="middle" textLength="53.5" lengthAdjust="spacingAndGlyphs" stroke="#111" stroke-width="0.35" >Height</text><text x="182.2" y="359.3" font-size="14.6" font-weight="bold" fill="#86141d" text-anchor="middle" textLength="64" lengthAdjust="spacingAndGlyphs" stroke="#86141d" stroke-width="0.35" >Max 36&#8243;</text><text x="182.2" y="375.7" font-size="15.2" font-weight="bold" fill="#86141d" text-anchor="middle" textLength="64" lengthAdjust="spacingAndGlyphs" stroke="#86141d" stroke-width="0.35" >Min 30&#8243;</text><text x="223.8" y="374.6" font-size="19.8" font-weight="bold" fill="#111" text-anchor="start" textLength="65" lengthAdjust="spacingAndGlyphs" stroke="#111" stroke-width="0.4" >Ceiling</text><text x="224" y="396.9" font-size="19.2" font-weight="bold" fill="#111" text-anchor="start" textLength="63" lengthAdjust="spacingAndGlyphs" stroke="#111" stroke-width="0.4" >Height</text><text x="184" y="490.3" font-size="15.6" font-weight="bold" fill="#111" text-anchor="middle" textLength="30.5" lengthAdjust="spacingAndGlyphs" stroke="#111" stroke-width="0.35" >36&#8243;</text><text x="478.2" y="181.7" font-size="16.3" font-weight="normal" fill="#1e1e1e" text-anchor="middle" >8&#8243;</text><text x="0" y="0" font-size="15.8" font-weight="normal" fill="#1e1e1e" text-anchor="middle" transform="translate(464.5,234) rotate(24.7)">9.2&#8243;</text><text x="0" y="0" font-size="18" font-weight="normal" fill="#1e1e1e" text-anchor="middle" transform="translate(631.3,272) rotate(90)">16&#8243;</text><text x="0" y="0" font-size="18" font-weight="normal" fill="#1e1e1e" text-anchor="middle" transform="translate(631.3,365) rotate(90)">16&#8243;</text><text x="0" y="0" font-size="18.5" font-weight="normal" fill="#1e1e1e" text-anchor="middle" transform="translate(667.9,474.7) rotate(90)">11.5&#8243;</text><g transform="rotate(25.2)" fill="#1e1e1e" font-size="18"><text x="517.3" y="297" textLength="30.5" lengthAdjust="spacingAndGlyphs">36&#8243;</text><line x1="549.8" y1="298.5" x2="560.6" y2="281" stroke="#1e1e1e" stroke-width="1.5"/><text x="562.3" y="297" textLength="30" lengthAdjust="spacingAndGlyphs">42&#8243;</text><line x1="596.3" y1="298.5" x2="607.2" y2="281" stroke="#1e1e1e" stroke-width="1.5"/><text x="610.1" y="297" textLength="31.3" lengthAdjust="spacingAndGlyphs">48&#8243;</text></g><g transform="rotate(-17.8)" fill="#1e1e1e" font-size="18"><text x="390.2" y="700.6" textLength="56.5" lengthAdjust="spacingAndGlyphs">19.25&#8243;</text></g></g>
</svg>
</body></html>
